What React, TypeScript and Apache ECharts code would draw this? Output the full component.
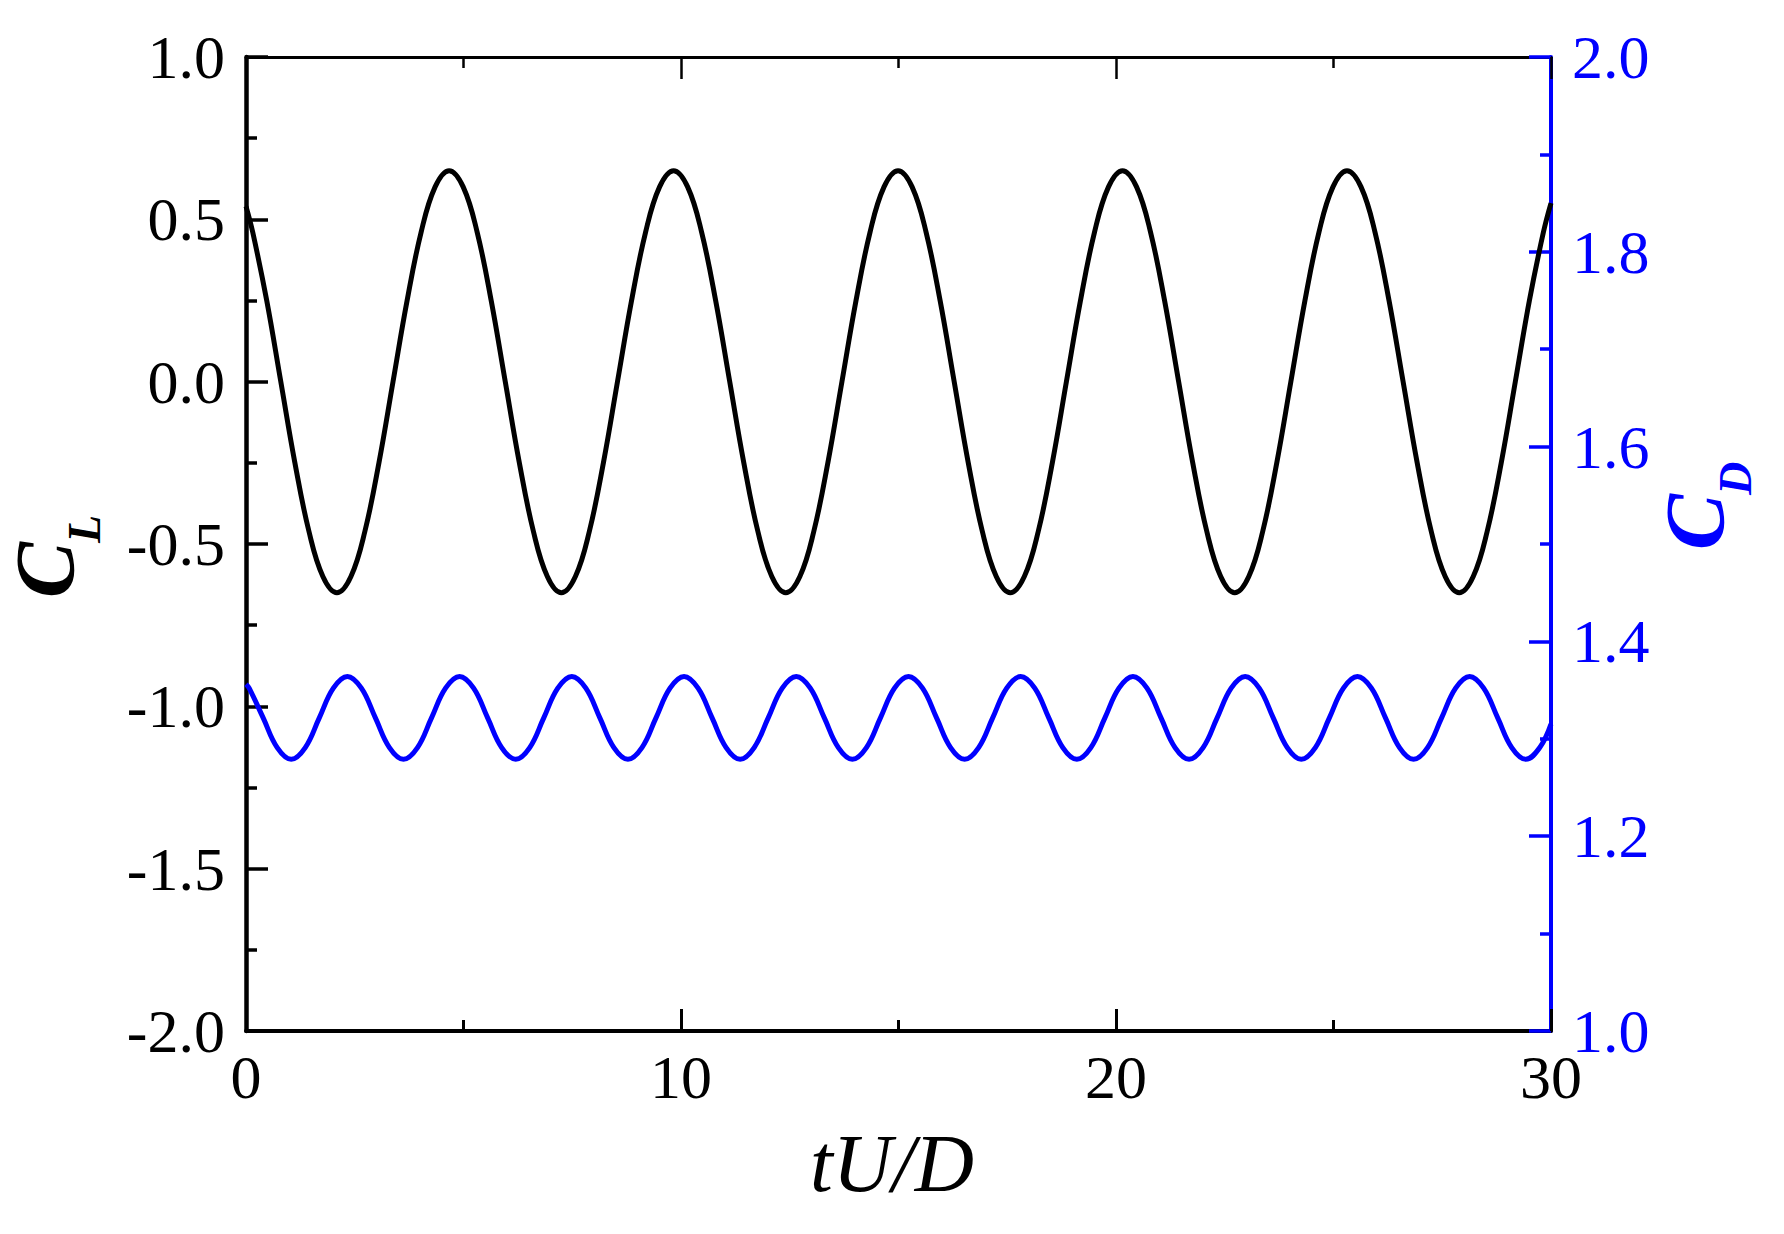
import React, { useEffect, useRef } from "react";
import * as echarts from "echarts";

// Time axis tick labels (tU/D)
const xTicks = [0, 10, 20, 30];
// Left axis: lift coefficient C_L
const clTicks = [-2.0, -1.5, -1.0, -0.5, 0.0, 0.5, 1.0];
// Right axis: drag coefficient C_D
const cdTicks = [1.0, 1.2, 1.4, 1.6, 1.8, 2.0];

// C_L samples
const clTime = [
  0, 0.155, 0.4775, 0.8, 1.1225, 1.445, 1.7675,
  2.09, 2.4125, 2.735, 3.0575, 3.38, 3.7025, 4.025, 4.3475,
  4.67, 4.9925, 5.315, 5.6375, 5.96, 6.2825, 6.605, 6.9275,
  7.25, 7.5725, 7.895, 8.2175, 8.54, 8.8625, 9.185, 9.5075,
  9.83, 10.1525, 10.475, 10.7975, 11.12, 11.4425, 11.765, 12.0875,
  12.41, 12.7325, 13.055, 13.3775, 13.7, 14.0225, 14.345, 14.6675,
  14.99, 15.3125, 15.635, 15.9575, 16.28, 16.6025, 16.925, 17.2475,
  17.57, 17.8925, 18.215, 18.5375, 18.86, 19.1825, 19.505, 19.8275,
  20.15, 20.4725, 20.795, 21.1175, 21.44, 21.7625, 22.085, 22.4075,
  22.73, 23.0525, 23.375, 23.6975, 24.02, 24.3425, 24.665, 24.9875,
  25.31, 25.6325, 25.955, 26.2775, 26.6, 26.9225, 27.245, 27.5675,
  27.89, 28.2125, 28.535, 28.8575, 29.18, 29.5025, 29.825, 30,
];
const clValue = [
  0.54, 0.46, 0.249, 0, -0.249, -0.46, -0.6,
  -0.65, -0.6, -0.46, -0.249, 0, 0.249, 0.46, 0.6,
  0.65, 0.6, 0.46, 0.249, 0, -0.249, -0.46, -0.6,
  -0.65, -0.6, -0.46, -0.249, 0, 0.249, 0.46, 0.6,
  0.65, 0.6, 0.46, 0.249, 0, -0.249, -0.46, -0.6,
  -0.65, -0.6, -0.46, -0.249, 0, 0.249, 0.46, 0.6,
  0.65, 0.6, 0.46, 0.249, 0, -0.249, -0.46, -0.6,
  -0.65, -0.6, -0.46, -0.249, 0, 0.249, 0.46, 0.6,
  0.65, 0.6, 0.46, 0.249, 0, -0.249, -0.46, -0.6,
  -0.65, -0.6, -0.46, -0.249, 0, 0.249, 0.46, 0.6,
  0.65, 0.6, 0.46, 0.249, 0, -0.249, -0.46, -0.6,
  -0.65, -0.6, -0.46, -0.249, 0, 0.249, 0.46, 0.55,
];

// C_D samples
const cdTime = [
  0, 0.0725, 0.395, 0.7175, 1.04, 1.3625, 1.685, 2.0075,
  2.33, 2.6525, 2.975, 3.2975, 3.62, 3.9425, 4.265, 4.5875,
  4.91, 5.2325, 5.555, 5.8775, 6.2, 6.5225, 6.845, 7.1675,
  7.49, 7.8125, 8.135, 8.4575, 8.78, 9.1025, 9.425, 9.7475,
  10.07, 10.3925, 10.715, 11.0375, 11.36, 11.6825, 12.005, 12.3275,
  12.65, 12.9725, 13.295, 13.6175, 13.94, 14.2625, 14.585, 14.9075,
  15.23, 15.5525, 15.875, 16.1975, 16.52, 16.8425, 17.165, 17.4875,
  17.81, 18.1325, 18.455, 18.7775, 19.1, 19.4225, 19.745, 20.0675,
  20.39, 20.7125, 21.035, 21.3575, 21.68, 22.0025, 22.325, 22.6475,
  22.97, 23.2925, 23.615, 23.9375, 24.26, 24.5825, 24.905, 25.2275,
  25.55, 25.8725, 26.195, 26.5175, 26.84, 27.1625, 27.485, 27.8075,
  28.13, 28.4525, 28.775, 29.0975, 29.42, 29.7425, 30,
];
const cdValue = [
  1.356, 1.352, 1.3215, 1.291, 1.279, 1.291, 1.3215, 1.352,
  1.364, 1.352, 1.3215, 1.291, 1.279, 1.291, 1.3215, 1.352,
  1.364, 1.352, 1.3215, 1.291, 1.279, 1.291, 1.3215, 1.352,
  1.364, 1.352, 1.3215, 1.291, 1.279, 1.291, 1.3215, 1.352,
  1.364, 1.352, 1.3215, 1.291, 1.279, 1.291, 1.3215, 1.352,
  1.364, 1.352, 1.3215, 1.291, 1.279, 1.291, 1.3215, 1.352,
  1.364, 1.352, 1.3215, 1.291, 1.279, 1.291, 1.3215, 1.352,
  1.364, 1.352, 1.3215, 1.291, 1.279, 1.291, 1.3215, 1.352,
  1.364, 1.352, 1.3215, 1.291, 1.279, 1.291, 1.3215, 1.352,
  1.364, 1.352, 1.3215, 1.291, 1.279, 1.291, 1.3215, 1.352,
  1.364, 1.352, 1.3215, 1.291, 1.279, 1.291, 1.3215, 1.352,
  1.364, 1.352, 1.3215, 1.291, 1.279, 1.291,
  1.315,
];

const FONT = '"Liberation Serif", "Times New Roman", serif';
const BLACK = "#000000";
const BLUE = "#0000ff";

export default function App() {
  const ref = useRef<HTMLDivElement>(null);

  useEffect(() => {
    if (!ref.current) return;
    const chart = echarts.init(ref.current, undefined, { renderer: "svg" });

    const clData = clTime.map((t, i) => [t, clValue[i]]);
    const cdData = cdTime.map((t, i) => [t, cdValue[i]]);

    const tickLabel = (color: string) => ({
      color,
      fontFamily: FONT,
      fontSize: 62,
    });

    const option: any = {
      animation: false,
      backgroundColor: "#ffffff",
      grid: { left: 246, right: 233, top: 57, bottom: 203, containLabel: false },
      xAxis: [
        {
          type: "value",
          position: "bottom",
          min: xTicks[0],
          max: xTicks[xTicks.length - 1],
          interval: xTicks[1] - xTicks[0],
          axisLine: { show: true, onZero: false, lineStyle: { color: BLACK, width: 4 } },
          axisTick: { show: true, inside: true, length: 22, lineStyle: { color: BLACK, width: 3 } },
          minorTick: { show: true, splitNumber: 2, length: 11, lineStyle: { color: BLACK, width: 3 } },
          axisLabel: { ...tickLabel(BLACK), margin: 15, formatter: (v: number) => String(v) },
          splitLine: { show: false },
          minorSplitLine: { show: false },
        },
        {
          type: "value",
          position: "top",
          min: xTicks[0],
          max: xTicks[xTicks.length - 1],
          interval: xTicks[1] - xTicks[0],
          axisLine: { show: true, onZero: false, lineStyle: { color: BLACK, width: 3 } },
          axisTick: { show: true, inside: true, length: 22, lineStyle: { color: BLACK, width: 2.5 } },
          minorTick: { show: true, splitNumber: 2, length: 11, lineStyle: { color: BLACK, width: 2.5 } },
          axisLabel: { show: false },
          splitLine: { show: false },
        },
      ],
      yAxis: [
        {
          type: "value",
          position: "left",
          min: clTicks[0],
          max: clTicks[clTicks.length - 1],
          interval: clTicks[1] - clTicks[0],
          axisLine: { show: true, onZero: false, lineStyle: { color: BLACK, width: 4.5 } },
          axisTick: { show: true, inside: true, length: 22, lineStyle: { color: BLACK, width: 3.5 } },
          minorTick: { show: true, splitNumber: 2, length: 11, lineStyle: { color: BLACK, width: 3.5 } },
          axisLabel: { ...tickLabel(BLACK), margin: 21, formatter: (v: number) => v.toFixed(1) },
          splitLine: { show: false },
        },
        {
          type: "value",
          position: "right",
          min: cdTicks[0],
          max: cdTicks[cdTicks.length - 1],
          interval: 0.2,
          axisLine: { show: true, onZero: false, lineStyle: { color: BLUE, width: 4 } },
          axisTick: { show: true, inside: true, length: 22, lineStyle: { color: BLUE, width: 3.5 } },
          minorTick: { show: true, splitNumber: 2, length: 11, lineStyle: { color: BLUE, width: 3.5 } },
          axisLabel: { ...tickLabel(BLUE), margin: 21, formatter: (v: number) => v.toFixed(1) },
          splitLine: { show: false },
        },
      ],
      series: [
        {
          name: "C_L",
          type: "line",
          xAxisIndex: 0,
          yAxisIndex: 0,
          data: clData,
          showSymbol: false,
          smooth: 0.4,
          lineStyle: { color: BLACK, width: 5 },
          z: 3,
        },
        {
          name: "C_D",
          type: "line",
          xAxisIndex: 0,
          yAxisIndex: 1,
          data: cdData,
          showSymbol: false,
          smooth: 0.4,
          lineStyle: { color: BLUE, width: 5 },
          z: 3,
        },
      ],
      graphic: [
        {
          type: "group",
          x: 45,
          y: 598,
          rotation: Math.PI / 2,
          children: [
            {
              type: "text",
              x: 0,
              y: 0,
              style: {
                text: "C",
                fill: BLACK,
                fontFamily: FONT,
                fontSize: 84,
                fontStyle: "italic",
                fontWeight: "bold",
                align: "left",
                verticalAlign: "middle",
              },
            },
            {
              type: "text",
              x: 55,
              y: 39,
              style: {
                text: "L",
                fill: BLACK,
                fontFamily: FONT,
                fontSize: 46,
                fontStyle: "italic",
                fontWeight: "bold",
                align: "left",
                verticalAlign: "middle",
              },
            },
          ],
        },
        {
          type: "group",
          x: 1695,
          y: 550,
          rotation: Math.PI / 2,
          children: [
            {
              type: "text",
              x: 0,
              y: 0,
              style: {
                text: "C",
                fill: BLUE,
                fontFamily: FONT,
                fontSize: 84,
                fontStyle: "italic",
                fontWeight: "bold",
                align: "left",
                verticalAlign: "middle",
              },
            },
            {
              type: "text",
              x: 55,
              y: 40,
              style: {
                text: "D",
                fill: BLUE,
                fontFamily: FONT,
                fontSize: 46,
                fontStyle: "italic",
                fontWeight: "bold",
                align: "left",
                verticalAlign: "middle",
              },
            },
          ],
        },
        {
          type: "text",
          x: 892,
          y: 1163,
          style: {
            text: "tU/D",
            fill: BLACK,
            fontFamily: FONT,
            fontSize: 82,
            fontStyle: "italic",
            align: "center",
            verticalAlign: "middle",
          },
        },
      ],
    };

    chart.setOption(option);
    return () => {
      chart.dispose();
    };
  }, []);

  return (
    <div
      ref={ref}
      style={{ position: "fixed", left: 0, top: 0, width: 1784, height: 1234, background: "#fff" }}
    />
  );
}
